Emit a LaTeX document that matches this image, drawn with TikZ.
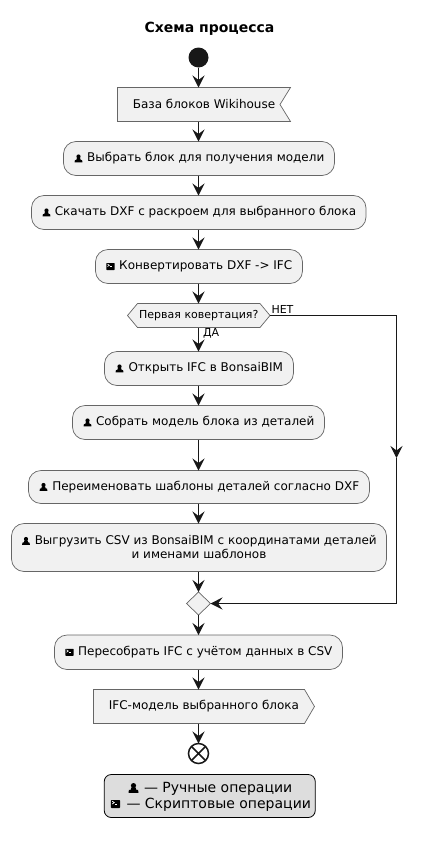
\documentclass[tikz,border=0pt]{standalone}
\usepackage{fontspec}
\setmainfont{DejaVu Sans}
\usetikzlibrary{arrows.meta}
\definecolor{ln}{HTML}{181818}
\definecolor{bd}{HTML}{666666}
\definecolor{bx}{HTML}{F1F1F1}
\definecolor{lg}{HTML}{DDDDDD}
\tikzset{
  x=1pt,y=-1pt,
  base/.style={font=\fontsize{12}{14}\selectfont,text=black,inner sep=0pt,outer sep=0pt},
  act/.style={base,draw=bd,line width=.7pt,fill=bx,rounded corners=12.5pt,align=center},
  flag/.style={base,align=center},
  shp/.style={draw=bd,line width=.7pt,fill=bx,line join=miter},
  edge/.style={draw=ln,line width=1pt,-{Stealth[length=12pt,width=12pt,inset=4.5pt]}},
  plain/.style={draw=ln,line width=1pt},
  person/.pic={\fill[black] (0,-2) circle (2.1);
     \fill[black] (-1.5,-.6) -- (1.5,-.6) -- (2.2,1.4) -- (3.6,1.6) -- (3.9,3.9) -- (-3.9,3.9) -- (-3.6,1.6) -- (-2.2,1.4) -- cycle;},
  term/.pic={\fill[black,rounded corners=.6pt] (-4.2,-3.5) rectangle (4.2,3.5);
     \draw[white,line width=.6pt] (-3,-2.4) -- (-1.2,-1.2) -- (-3,0);
     \draw[white,line width=.7pt] (-.6,-.1) -- (1.6,-.1);},
  personB/.pic={\fill[black] (0,-2.4) circle (2.6);
     \fill[black] (-2,-.6) -- (2,-.6) -- (2.8,1.8) -- (4.6,2) -- (5,4.8) -- (-5,4.8) -- (-4.6,2) -- (-2.8,1.8) -- cycle;},
  termB/.pic={\fill[black,rounded corners=.7pt] (-4.6,-4) rectangle (4.6,4);
     \draw[white,line width=.7pt] (-3.3,-2.8) -- (-1.2,-1.4) -- (-3.3,0);
     \draw[white,line width=.8pt] (-.6,-.1) -- (1.8,-.1);},
}
\newcommand{\ic}{\hspace*{13.5pt}}
\begin{document}
\begin{tikzpicture}
\useasboundingbox (0,0) rectangle (421,841);
\node[base,font=\fontsize{14}{16}\bfseries\selectfont] (title) at (209.5,29) {Схема процесса};
\node[circle,fill=ln,minimum size=20pt,inner sep=0pt,outer sep=0pt] (start) at (198.5,57.5) {};

% input flag
\coordinate (inC) at (198.5,104.5);
\draw[shp] (117.5,87.5) -- (290.5,87.5) -- (280,104.5) -- (290.5,121.5) -- (117.5,121.5) -- cycle;
\node[base,minimum width=173pt,minimum height=34pt] (in) at (inC) {};
\node[flag] (inT) at (204,104) {База блоков Wikihouse};

\node[act,minimum width=271pt,minimum height=34pt] (b1) at (199,158.5) {\ic Выбрать блок для получения модели};
\node[act,minimum width=334.5pt,minimum height=34pt] (b2) at (198.75,212.5) {\ic Скачать DXF с раскроем для выбранного блока};
\node[act,minimum width=207pt,minimum height=34pt] (b3) at (199,266.5) {\ic Конвертировать DXF -> IFC};

% decision
\draw[shp] (127.5,315.5) -- (137.5,303.5) -- (260,303.5) -- (270,315.5) -- (260,327.5) -- (137.5,327.5) -- cycle;
\node[base,font=\fontsize{11}{13}\selectfont,minimum width=142.5pt,minimum height=24pt] (dec) at (198.75,315.5) {Первая ковертация?};
\node[base,font=\fontsize{11}{13}\selectfont,anchor=west] (no) at (271.5,309) {НЕТ};
\node[base,font=\fontsize{11}{13}\selectfont,anchor=west] (yes) at (203,333.5) {ДА};

\node[act,minimum width=189pt,minimum height=34pt] (b4) at (199,368.5) {\ic Открыть IFC в BonsaiBIM};
\node[act,minimum width=252pt,minimum height=34pt] (b5) at (198.5,422.5) {\ic Собрать модель блока из деталей};
\node[act,minimum width=341pt,minimum height=33pt] (b6) at (199,487) {\ic Переименовать шаблоны деталей согласно DXF};
\node[act,minimum width=375pt,minimum height=48pt] (b7) at (199,547.5) {\ic Выгрузить CSV из BonsaiBIM с координатами деталей\\и именами шаблонов};

% merge
\draw[shp] (198.5,592) -- (210.5,603.5) -- (198.5,615) -- (186.5,603.5) -- cycle;
\node[base,minimum width=24pt,minimum height=23pt] (mg) at (198.5,603.5) {};

\node[act,minimum width=288pt,minimum height=34.5pt] (b8) at (198.5,652.25) {\ic Пересобрать IFC с учётом данных в CSV};

% output flag
\draw[shp] (93.5,689.5) -- (304.5,689.5) -- (314.5,706.5) -- (304.5,723.5) -- (93.5,723.5) -- cycle;
\node[base,minimum width=221pt,minimum height=34pt] (out) at (204,706.5) {};
\node[flag] (outT) at (204,706.5) {IFC-модель выбранного блока};

\node[circle,draw=ln,line width=1.5pt,minimum size=20pt,inner sep=0pt,outer sep=0pt] (end) at (198.5,753.5) {};
\draw[ln,line width=1.5pt] (end.north west) -- (end.south east) (end.north east) -- (end.south west);

% legend
\node[base,draw=black,line width=.8pt,fill=lg,rounded corners=7pt,minimum width=211pt,minimum height=43pt] (lgd) at (209.75,796) {};
\node[base,font=\fontsize{14}{16}\selectfont,anchor=west] (l1) at (144,789) {— Ручные операции};
\node[base,font=\fontsize{14}{16}\selectfont,anchor=west] (l2) at (126.5,805) {— Скриптовые операции};

% icons
\pic at ([xshift=15pt]b1.west) {person};
\pic at ([xshift=15pt]b2.west) {person};
\pic at ([xshift=15pt]b3.west) {term};
\pic at ([xshift=15pt]b4.west) {person};
\pic at ([xshift=15pt]b5.west) {person};
\pic at ([xshift=15pt]b6.west) {person};
\pic at (26,541) {person};
\pic at ([xshift=15pt]b8.west) {term};
\pic at (133.5,788) {personB};
\pic at (115.5,804) {termB};

% connectors
\coordinate (turn1) at (396.5,315.5);
\coordinate (midr) at (396.5,458);
\coordinate (turn2) at (396.5,603.5);
\draw[edge] (start) -- (start |- in.north);
\draw[edge] (in.south -| start) -- (b1.north -| start);
\draw[edge] (b1.south -| start) -- (b2.north -| start);
\draw[edge] (b2.south -| start) -- (b3.north -| start);
\draw[edge] (b3.south -| start) -- (dec.north -| start);
\draw[edge] (dec.south -| start) -- (b4.north -| start);
\draw[edge] (b4.south -| start) -- (b5.north -| start);
\draw[edge] (b5.south -| start) -- (b6.north -| start);
\draw[edge] (b6.south -| start) -- (b7.north -| start);
\draw[edge] (b7.south -| start) -- (mg.north);
\draw[edge] (mg.south) -- (b8.north -| start);
\draw[edge] (b8.south -| start) -- (out.north -| start);
\draw[edge] (out.south -| start) -- (end.north);
\draw[plain] (dec.east) -- (turn1);
\draw[edge] (turn1) -- (midr);
\draw[plain] (midr) -- (turn2);
\draw[edge] (turn2) -- (mg.east);
\end{tikzpicture}
\end{document}
